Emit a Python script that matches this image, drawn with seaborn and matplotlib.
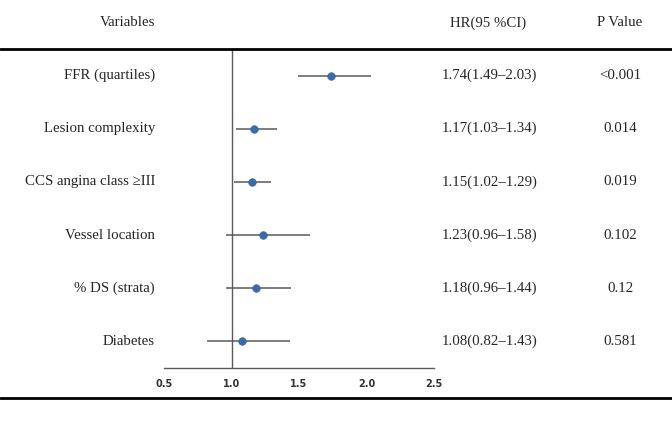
import matplotlib
matplotlib.use("Agg")
import matplotlib.pyplot as plt
import matplotlib.transforms as mtransforms
import seaborn as sns
import pandas as pd
from matplotlib.lines import Line2D

variables = ["FFR (quartiles)", "Lesion complexity", "CCS angina class \u2265III",
             "Vessel location", "% DS (strata)", "Diabetes"]
hr = [1.74, 1.17, 1.15, 1.23, 1.18, 1.08]
lower = [1.49, 1.03, 1.02, 0.96, 0.96, 0.82]
upper = [2.03, 1.34, 1.29, 1.58, 1.44, 1.43]
ci_text = ["1.74(1.49\u20132.03)", "1.17(1.03\u20131.34)", "1.15(1.02\u20131.29)",
           "1.23(0.96\u20131.58)", "1.18(0.96\u20131.44)", "1.08(0.82\u20131.43)"]
p_values = ["<0.001", "0.014", "0.019", "0.102", "0.12", "0.581"]
x_ticks = [0.5, 1.0, 1.5, 2.0, 2.5]

df = pd.DataFrame({"row": range(len(variables)), "hr": hr, "lo": lower, "hi": upper})

sns.set_style("white")
serif = "Liberation Serif"
FS = 10.7
fig = plt.figure(figsize=(6.72, 4.32), dpi=100)
W, H = 672, 432
ax = fig.add_axes([164 / W, 1 - 368 / H, 270 / W, 319 / H])

ax.hlines(df["row"], df["lo"], df["hi"], color="#5a5a5a", lw=1.1, zorder=2)
sns.scatterplot(data=df, x="hr", y="row", ax=ax, color="#3a6aa8", s=30,
                edgecolor="#3a6aa8", linewidth=0.5, zorder=3, legend=False)
ax.axvline(1.0, color="#5a5a5a", lw=1.0, zorder=1)

ax.set_xlim(0.5, 2.5)
ax.set_ylim(5.5, -0.5)
ax.set_xticks(x_ticks)
ax.set_xticklabels([f"{t:.1f}" for t in x_ticks], fontsize=7, color="#333333",
                   family="DejaVu Sans", fontweight="bold")
ax.set_yticks([])
ax.set_xlabel("")
ax.set_ylabel("")
for s in ["top", "right", "left"]:
    ax.spines[s].set_visible(False)
ax.spines["bottom"].set_color("#5a5a5a")
ax.spines["bottom"].set_linewidth(1.0)
ax.tick_params(axis="x", direction="in", length=4, width=1.0, color="#5a5a5a", pad=8)
ax.patch.set_alpha(0)

blend = mtransforms.blended_transform_factory(fig.transFigure, ax.transData)
for i, (v, c, p) in enumerate(zip(variables, ci_text, p_values)):
    ax.text(155 / W, i, v, transform=blend, ha="right", va="center", fontsize=FS, family=serif)
    ax.text(442 / W, i, c, transform=blend, ha="left", va="center", fontsize=FS, family=serif)
    ax.text(620 / W, i, p, transform=blend, ha="center", va="center", fontsize=FS, family=serif)

hy = 1 - 23 / H
fig.text(155 / W, hy, "Variables", ha="right", va="center", fontsize=FS, family=serif)
fig.text(488 / W, hy, "HR(95 %CI)", ha="center", va="center", fontsize=FS, family=serif)
fig.text(620 / W, hy, "P Value", ha="center", va="center", fontsize=FS, family=serif)

fig.add_artist(Line2D([0, 1], [1 - 49 / H, 1 - 49 / H], transform=fig.transFigure, color="black", lw=2.0))
fig.add_artist(Line2D([0, 1], [1 - 398 / H, 1 - 398 / H], transform=fig.transFigure, color="black", lw=2.0))

fig.savefig("out.png", dpi=100)
